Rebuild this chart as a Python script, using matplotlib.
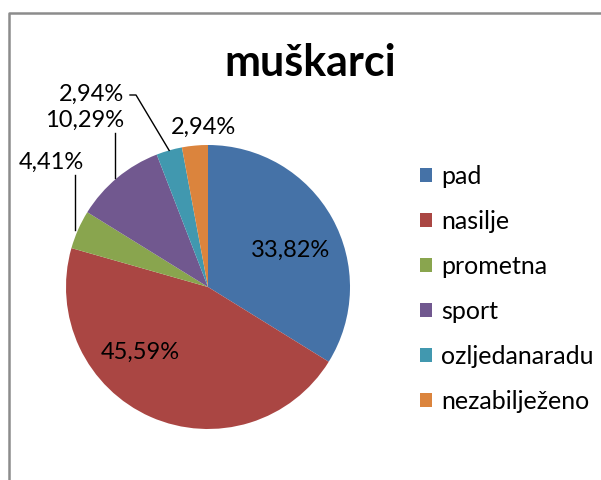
import numpy as np
import matplotlib.pyplot as plt
from matplotlib.patches import Patch

plt.rcParams["font.family"] = ["Lato", "DejaVu Sans"]

categories = ["pad", "nasilje", "prometna", "sport", "ozljedanaradu", "nezabilježeno"]
shares = [33.82, 45.59, 4.41, 10.29, 2.94, 2.94]
labels = ["33,82%", "45,59%", "4,41%", "10,29%", "2,94%", "2,94%"]
colors = ["#4572A7", "#AA4643", "#89A54E", "#71588F", "#4198AF", "#DB843D"]

W, H = 601, 480
fig = plt.figure(figsize=(W / 100, H / 100), dpi=100)


def fpx(x, y):
    # pixel coords (from top-left) -> figure fraction
    return x / W, 1 - y / H


# pie placement in pixels
cx, cy, r = 208, 287, 142
ax = fig.add_axes([(cx - r) / W, (H - cy - r) / H, 2 * r / W, 2 * r / H])
ax.axis("off")

wedges, _ = ax.pie(shares, colors=colors, startangle=90, counterclock=False,
                   radius=1, center=(0, 0), wedgeprops=dict(linewidth=0))
ax.set_xlim(-1, 1)
ax.set_ylim(-1, 1)

# label positions (pixels, text centre)
label_pos = [(291, 250), (140, 352), (51, 162), (85, 120), (92, 94), (203, 127)]
for lab, (px_, py_) in zip(labels, label_pos):
    fig.text(*fpx(px_, py_), lab, ha="center", va="center", fontsize=17, color="#000000")

# leader lines for small outer slices
for i, w in enumerate(wedges):
    mid = np.deg2rad((w.theta1 + w.theta2) / 2)
    ex, ey = cx + r * np.cos(mid), cy - r * np.sin(mid)
    if categories[i] == "prometna":
        pts = [(ex - 3, 175), (ex - 3, ey)]
    elif categories[i] == "sport":
        pts = [(ex - 2, 133), (ex - 2, ey)]
    elif categories[i] == "ozljedanaradu":
        pts = [(130, 95), (136, 95), (ex, ey)]
    else:
        continue
    xs, ys = zip(*[fpx(p, q) for p, q in pts])
    fig.add_artist(plt.Line2D(xs, ys, color="#000000", lw=1))

fig.text(*fpx(310, 63), "muškarci", ha="center", va="center",
         fontsize=31, fontweight="bold")

handles = [Patch(facecolor=c, edgecolor="none") for c in colors]
fig.legend(handles, categories, loc="upper left", bbox_to_anchor=fpx(410, 155),
           frameon=False, fontsize=18, handlelength=0.5, handleheight=0.5,
           handletextpad=0.35, labelspacing=0.88, borderaxespad=0)

# chart border (left and top edges visible)
fig.add_artist(plt.Line2D([9 / W, 9 / W, 1.0], [0, 1 - 13 / H, 1 - 13 / H],
                          color="#8c8c8c", lw=1.8))

fig.savefig("out.png", dpi=100)
